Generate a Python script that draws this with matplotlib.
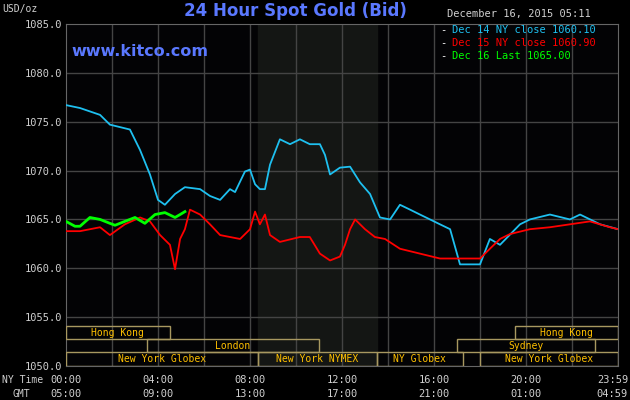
import matplotlib
matplotlib.use("Agg")
import matplotlib.pyplot as plt
from matplotlib.patches import Rectangle

blue_h = [0,0.61,1.48,1.91,2.78,3.22,3.65,4.0,4.3,4.74,5.17,5.83,6.26,6.7,7.13,7.35,7.78,8.0,8.22,8.43,8.65,8.87,9.3,9.74,10.17,10.6,11.04,11.26,11.48,11.91,12.35,12.78,13.22,13.65,14.09,14.52,14.96,15.39,16.26,16.7,17.13,18.0,18.43,18.87,19.74,20.17,21.04,21.91,22.35,23.22,24]
blue_p = [1076.7,1076.4,1075.7,1074.7,1074.2,1072.1,1069.6,1067.0,1066.5,1067.6,1068.3,1068.1,1067.4,1067.0,1068.1,1067.8,1069.9,1070.1,1068.6,1068.1,1068.1,1070.6,1073.2,1072.7,1073.2,1072.7,1072.7,1071.6,1069.6,1070.3,1070.4,1068.8,1067.6,1065.2,1065.0,1066.5,1066.0,1065.5,1064.5,1064.0,1060.4,1060.4,1063.0,1062.4,1064.5,1065.0,1065.5,1065.0,1065.5,1064.5,1064.0]
red_h = [0,0.61,1.48,1.91,2.56,3.22,3.65,4.09,4.52,4.74,4.96,5.17,5.39,5.83,6.26,6.7,7.13,7.57,8.0,8.22,8.43,8.65,8.87,9.3,10.17,10.6,11.04,11.48,11.91,12.13,12.35,12.57,13.0,13.43,13.87,14.52,15.39,16.26,17.13,18.0,18.43,18.87,19.3,20.17,21.04,21.91,22.78,23.65,24]
red_p = [1063.8,1063.8,1064.2,1063.4,1064.5,1065.2,1064.8,1063.4,1062.4,1059.9,1063.0,1064.0,1066.0,1065.5,1064.5,1063.4,1063.2,1063.0,1064.0,1065.8,1064.5,1065.5,1063.4,1062.7,1063.2,1063.2,1061.5,1060.8,1061.2,1062.4,1064.0,1065.0,1064.0,1063.2,1063.0,1062.0,1061.5,1061.0,1061.0,1061.0,1062.0,1063.0,1063.5,1064.0,1064.2,1064.5,1064.8,1064.2,1064.0]
green_h = [0,0.39,0.61,1.04,1.48,1.91,2.13,2.56,3.0,3.43,3.87,4.3,4.74,4.96,5.17]
green_p = [1064.8,1064.3,1064.3,1065.2,1065.0,1064.6,1064.4,1064.8,1065.2,1064.6,1065.5,1065.7,1065.2,1065.5,1065.8]

ny_labels = ["00:00","04:00","08:00","12:00","16:00","20:00","23:59"]
gmt_labels = ["05:00","09:00","13:00","17:00","21:00","01:00","04:59"]
label_hours = [0,4,8,12,16,20,24]
yticks = [1050,1055,1060,1065,1070,1075,1080,1085]

sessions = [(0,0,4.5,"Hong Kong"),(0,19.5,24,"Hong Kong"),
            (1,3.5,11,"London"),(1,17,23,"Sydney"),
            (2,0,8.33,"New York Globex"),(2,8.33,13.5,"New York NYMEX"),
            (2,13.5,17.25,"NY Globex"),(2,18,24,"New York Globex")]

mono = "DejaVu Sans Mono"
fig = plt.figure(figsize=(6.3,4), dpi=100, facecolor="black")
ax = fig.add_axes([66/630, 34/400, 552/630, 342/400], facecolor="#030305")
ax.set_xlim(0,24); ax.set_ylim(1050,1085)
ax.axvspan(8.33,13.5,color="#141614",zorder=0)
for h in range(2,24,2):
    ax.axvline(h,color="#444444",lw=1,zorder=1)
for y in yticks[1:-1]:
    ax.axhline(y,color="#444444",lw=1,zorder=1)
ax.plot(blue_h,blue_p,color="#1ec0f0",lw=1.3,zorder=3)
ax.plot(red_h,red_p,color="#ff0000",lw=1.3,zorder=3)
ax.plot(green_h,green_p,color="#00ff00",lw=2,zorder=4)
rows = [1054.1,1052.75,1051.4,1050.05]
for r,s,e,lab in sessions:
    ax.add_patch(Rectangle((s,rows[r+1]),e-s,rows[r]-rows[r+1],fill=False,ec="#a89860",lw=1,zorder=5))
    ax.text((s+e)/2,(rows[r]+rows[r+1])/2,lab,color="#ffc000",fontsize=7,family=mono,ha="center",va="center",zorder=6)
for sp in ax.spines.values():
    sp.set_color("#666666")
ax.set_xticks([]); ax.set_yticks(yticks)
ax.set_yticklabels([f"{v:.1f}" for v in yticks],color="#d0d0d0",fontsize=7.5,family=mono)
ax.tick_params(axis="y",length=0,pad=3)
for h,a,b in zip(label_hours,ny_labels,gmt_labels):
    x = (66+h*23)/630
    ha = "center"
    if h == 24:
        x = 628/630; ha = "right"
    fig.text(x,1-380/400,a,color="#d0d0d0",fontsize=7.5,family=mono,ha=ha,va="center")
    fig.text(x,1-394/400,b,color="#d0d0d0",fontsize=7.5,family=mono,ha=ha,va="center")
fig.text(2/630,1-380/400,"NY Time",color="#d0d0d0",fontsize=7,family=mono,va="center")
fig.text(12/630,1-394/400,"GMT",color="#d0d0d0",fontsize=7,family=mono,va="center")
fig.text(2/630,1-9/400,"USD/oz",color="#d0d0d0",fontsize=7,family=mono,va="center")
fig.text(295/630,1-11/400,"24 Hour Spot Gold (Bid)",color="#5a78ff",fontsize=12,fontweight="bold",ha="center",va="center")
fig.text(447/630,1-14/400,"December 16, 2015 05:11",color="#d0d0d0",fontsize=7.5,family=mono,va="center")
ax.text(0.01,0.92,"www.kitco.com",transform=ax.transAxes,color="#5a78ff",fontsize=11.5,fontweight="bold",va="center")
leg = [("Dec 14 NY close 1060.10","#1ec0f0"),("Dec 15 NY close 1060.90","#ff0000"),("Dec 16 Last 1065.00","#00ff00")]
for i,(t,c) in enumerate(leg):
    fig.text(440/630,1-(30+i*13)/400,"-",color="#ffffff",fontsize=7.5,family=mono,va="center")
    fig.text(452/630,1-(30+i*13)/400,t,color=c,fontsize=7.5,family=mono,va="center")
fig.savefig("out.png",dpi=100,facecolor="black")
